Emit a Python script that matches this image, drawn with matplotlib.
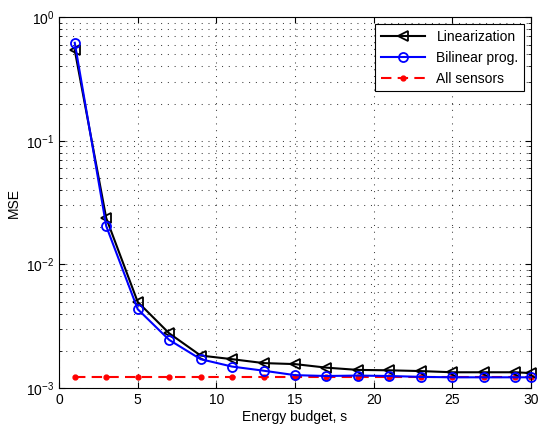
import matplotlib
matplotlib.use("Agg")
import matplotlib.pyplot as plt
import numpy as np

plt.rcParams['font.family'] = ['Liberation Sans', 'DejaVu Sans']
plt.rcParams['mathtext.fontset'] = 'custom'
plt.rcParams['mathtext.rm'] = 'Liberation Sans'
plt.rcParams['mathtext.it'] = 'Liberation Sans'

budget = [1, 3, 5, 7, 9, 11, 13, 15, 17, 19, 21, 23, 25, 27, 29, 30]
linearization = [0.54, 0.0237, 4.97e-3, 2.77e-3, 1.83e-3, 1.71e-3, 1.59e-3, 1.56e-3,
                 1.46e-3, 1.40e-3, 1.39e-3, 1.37e-3, 1.34e-3, 1.34e-3, 1.34e-3, 1.32e-3]
bilinear = [0.62, 0.0204, 4.34e-3, 2.45e-3, 1.71e-3, 1.49e-3, 1.38e-3, 1.27e-3,
            1.25e-3, 1.26e-3, 1.25e-3, 1.23e-3, 1.22e-3, 1.22e-3, 1.22e-3, 1.22e-3]
all_sensors = [1.22e-3] * len(budget)

fig = plt.figure(figsize=(5.38, 4.28), dpi=100)
ax = fig.add_axes([0.1097, 0.0935, 0.8773, 0.8665])

ax.plot(budget, linearization, color='black', lw=1.5, marker='<', ms=7,
        mfc='none', mew=1.3, label='Linearization', clip_on=False, zorder=3)
ax.plot(budget, bilinear, color='#0000ff', lw=1.5, marker='o', ms=6.5,
        mfc='none', mew=1.3, label='Bilinear prog.', clip_on=False, zorder=4)
ax.plot(budget, all_sensors, color='#ff0000', lw=1.5, ls=(0, (5, 3)), marker='.',
        ms=7, label='All sensors', clip_on=False, zorder=2)

ax.set_yscale('log')
ax.set_xlim(0, 30)
ax.set_ylim(1e-3, 1)
ax.set_xticks([0, 5, 10, 15, 20, 25, 30])
grid_style = dict(ls=(0, (1, 5.5)), color='black', lw=0.75, alpha=0.75)
ax.grid(True, which='major', **grid_style)
ax.grid(True, which='minor', axis='y', **grid_style)
ax.tick_params(which='both', direction='in', top=True, right=True, labelsize=10)
ax.tick_params(which='major', length=4)
ax.tick_params(which='minor', length=2)
for s in ax.spines.values():
    s.set_linewidth(0.8)

ax.set_xlabel('Energy budget, s', fontsize=10, labelpad=2)
ax.set_ylabel('MSE', fontsize=10)

leg = ax.legend(loc='upper right', fontsize=10, frameon=True, fancybox=False,
                edgecolor='black', framealpha=1, borderaxespad=0.5, handlelength=3.2)
leg.get_frame().set_linewidth(0.8)

fig.savefig('out.png', dpi=100)
